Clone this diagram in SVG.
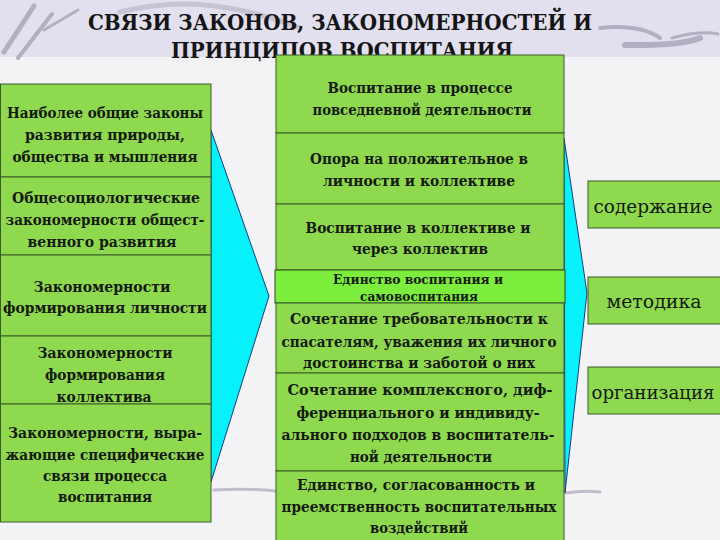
<svg xmlns="http://www.w3.org/2000/svg" width="720" height="540" viewBox="0 0 720 540">
<style>
.box{fill:#8fd94f;stroke:#3b5a2c;stroke-width:1}
.hl{fill:#7ced3c;stroke:#2f4a22;stroke-width:1}
.t{font-family:"DejaVu Serif","Liberation Serif",serif;font-weight:bold;font-size:15px;fill:#141a10;text-anchor:middle;dominant-baseline:central}
.s{font-size:12px}
.r{font-weight:normal;font-size:18px}
.title{font-family:"DejaVu Serif","Liberation Serif",serif;font-weight:bold;font-size:23px;fill:#151515;text-anchor:middle}
.arrow{fill:#05f2fb;stroke:#1b3b86;stroke-width:1;stroke-linejoin:round}
.deco{fill:none;stroke:#b0b0c2;stroke-linecap:round}
</style>
<g id="background">
<rect x="0" y="0" width="720" height="540" fill="#f3f3f6"/>
<rect x="0" y="0" width="720" height="57" fill="#e2e0ee"/>
<path class="deco" d="M4 52 L34 6" stroke-width="5"/>
<path class="deco" d="M18 58 L52 14" stroke-width="4"/>
<path class="deco" d="M44 30 L78 10" stroke-width="3"/>
<path class="deco" d="M120 12 Q170 0 215 6 T300 28" stroke-width="5" opacity="0.6"/>
<path class="deco" d="M600 28 Q640 24 660 38" stroke-width="4"/>
<path class="deco" d="M625 45 Q680 46 700 38" stroke-width="6"/>
<path class="deco" d="M672 38 Q700 30 718 34" stroke-width="3"/>
<path class="deco" d="M214 490 Q245 488 276 491" stroke-width="3" opacity="0.8"/>
<path class="deco" d="M566 493 Q585 490 600 492" stroke-width="3" opacity="0.8"/>
</g>
<g id="title">
<text class="title" x="340" y="30" textLength="504" lengthAdjust="spacingAndGlyphs">СВЯЗИ ЗАКОНОВ, ЗАКОНОМЕРНОСТЕЙ И</text>
<text class="title" x="342" y="58" textLength="342" lengthAdjust="spacingAndGlyphs">ПРИНЦИПОВ ВОСПИТАНИЯ</text>
</g>
<g id="connectors">
<polygon class="arrow" points="211,130 269,296 211,482"/>
<polygon class="arrow" points="564,138 587,293 565,493"/>
</g>
<g id="left-1">
<rect class="box" x="0.5" y="84" width="210.5" height="93"/>
<text class="t" x="105" y="113" textLength="196" lengthAdjust="spacingAndGlyphs">Наиболее общие законы</text>
<text class="t" x="105" y="135" textLength="160" lengthAdjust="spacingAndGlyphs">развития природы,</text>
<text class="t" x="105" y="157" textLength="185" lengthAdjust="spacingAndGlyphs">общества и мышления</text>
</g>
<g id="left-2">
<rect class="box" x="0.5" y="177" width="210.5" height="78"/>
<text class="t" x="106" y="198" textLength="188" lengthAdjust="spacingAndGlyphs">Общесоциологические</text>
<text class="t" x="105" y="220" textLength="199" lengthAdjust="spacingAndGlyphs">закономерности общест-</text>
<text class="t" x="102" y="242" textLength="149" lengthAdjust="spacingAndGlyphs">венного развития</text>
</g>
<g id="left-3">
<rect class="box" x="0.5" y="255" width="210.5" height="81"/>
<text class="t" x="102" y="287" textLength="137" lengthAdjust="spacingAndGlyphs">Закономерности</text>
<text class="t" x="105" y="308" textLength="204" lengthAdjust="spacingAndGlyphs">формирования личности</text>
</g>
<g id="left-4">
<rect class="box" x="0.5" y="336" width="210.5" height="68"/>
<text class="t" x="105" y="353" textLength="135" lengthAdjust="spacingAndGlyphs">Закономерности</text>
<text class="t" x="105" y="375" textLength="120" lengthAdjust="spacingAndGlyphs">формирования</text>
<text class="t" x="104" y="397" textLength="95" lengthAdjust="spacingAndGlyphs">коллектива</text>
</g>
<g id="left-5">
<rect class="box" x="0.5" y="404" width="210.5" height="118"/>
<text class="t" x="105" y="433" textLength="194" lengthAdjust="spacingAndGlyphs">Закономерности, выра-</text>
<text class="t" x="105" y="455" textLength="199" lengthAdjust="spacingAndGlyphs">жающие специфические</text>
<text class="t" x="105" y="476" textLength="124" lengthAdjust="spacingAndGlyphs">связи   процесса</text>
<text class="t" x="105" y="497" textLength="94" lengthAdjust="spacingAndGlyphs">воспитания</text>
</g>
<g id="mid-1">
<rect class="box" x="276" y="55" width="288" height="78"/>
<text class="t" x="420" y="88" textLength="185" lengthAdjust="spacingAndGlyphs">Воспитание в процессе</text>
<text class="t" x="422" y="110" textLength="219" lengthAdjust="spacingAndGlyphs">повседневной деятельности</text>
</g>
<g id="mid-2">
<rect class="box" x="276" y="133" width="288" height="71"/>
<text class="t" x="419" y="159" textLength="218" lengthAdjust="spacingAndGlyphs">Опора на положительное в</text>
<text class="t" x="419" y="181" textLength="192" lengthAdjust="spacingAndGlyphs">личности и коллективе</text>
</g>
<g id="mid-3">
<rect class="box" x="276" y="204" width="288" height="66"/>
<text class="t" x="418" y="228" textLength="225" lengthAdjust="spacingAndGlyphs">Воспитание в коллективе и</text>
<text class="t" x="420" y="249" textLength="136" lengthAdjust="spacingAndGlyphs">через  коллектив</text>
</g>
<g id="mid-4">
<rect class="hl" x="275" y="270" width="290" height="33"/>
<text class="t s" x="418" y="280" textLength="170" lengthAdjust="spacingAndGlyphs">Единство воспитания и</text>
<text class="t s" x="419" y="297" textLength="118" lengthAdjust="spacingAndGlyphs">самовоспитания</text>
</g>
<g id="mid-5">
<rect class="box" x="276" y="303" width="288" height="70"/>
<text class="t" x="419" y="319" textLength="258" lengthAdjust="spacingAndGlyphs">Сочетание требовательности  к</text>
<text class="t" x="419" y="342" textLength="275" lengthAdjust="spacingAndGlyphs">спасателям, уважения их личного</text>
<text class="t" x="419" y="363" textLength="232" lengthAdjust="spacingAndGlyphs">достоинства и заботой о них</text>
</g>
<g id="mid-6">
<rect class="box" x="276" y="373" width="288" height="98"/>
<text class="t" x="420" y="390" textLength="265" lengthAdjust="spacingAndGlyphs">Сочетание комплексного, диф-</text>
<text class="t" x="418" y="413" textLength="243" lengthAdjust="spacingAndGlyphs">ференциального и индивиду-</text>
<text class="t" x="418" y="435" textLength="273" lengthAdjust="spacingAndGlyphs">ального подходов в воспитатель-</text>
<text class="t" x="421" y="457" textLength="142" lengthAdjust="spacingAndGlyphs">ной деятельности</text>
</g>
<g id="mid-7">
<rect class="box" x="276" y="471" width="288" height="75"/>
<text class="t" x="416" y="485" textLength="238" lengthAdjust="spacingAndGlyphs">Единство, согласованность и</text>
<text class="t" x="419" y="507" textLength="275" lengthAdjust="spacingAndGlyphs">преемственность воспитательных</text>
<text class="t" x="419" y="528" textLength="98" lengthAdjust="spacingAndGlyphs">воздействий</text>
</g>
<g id="right-1">
<rect class="box" x="588" y="181" width="133" height="47"/>
<text class="t r" x="653" y="206" textLength="119" lengthAdjust="spacingAndGlyphs">содержание</text>
</g>
<g id="right-2">
<rect class="box" x="588" y="277" width="133" height="47"/>
<text class="t r" x="654" y="301" textLength="95" lengthAdjust="spacingAndGlyphs">методика</text>
</g>
<g id="right-3">
<rect class="box" x="588" y="367" width="133" height="47"/>
<text class="t r" x="653" y="392" textLength="123" lengthAdjust="spacingAndGlyphs">организация</text>
</g>
</svg>
